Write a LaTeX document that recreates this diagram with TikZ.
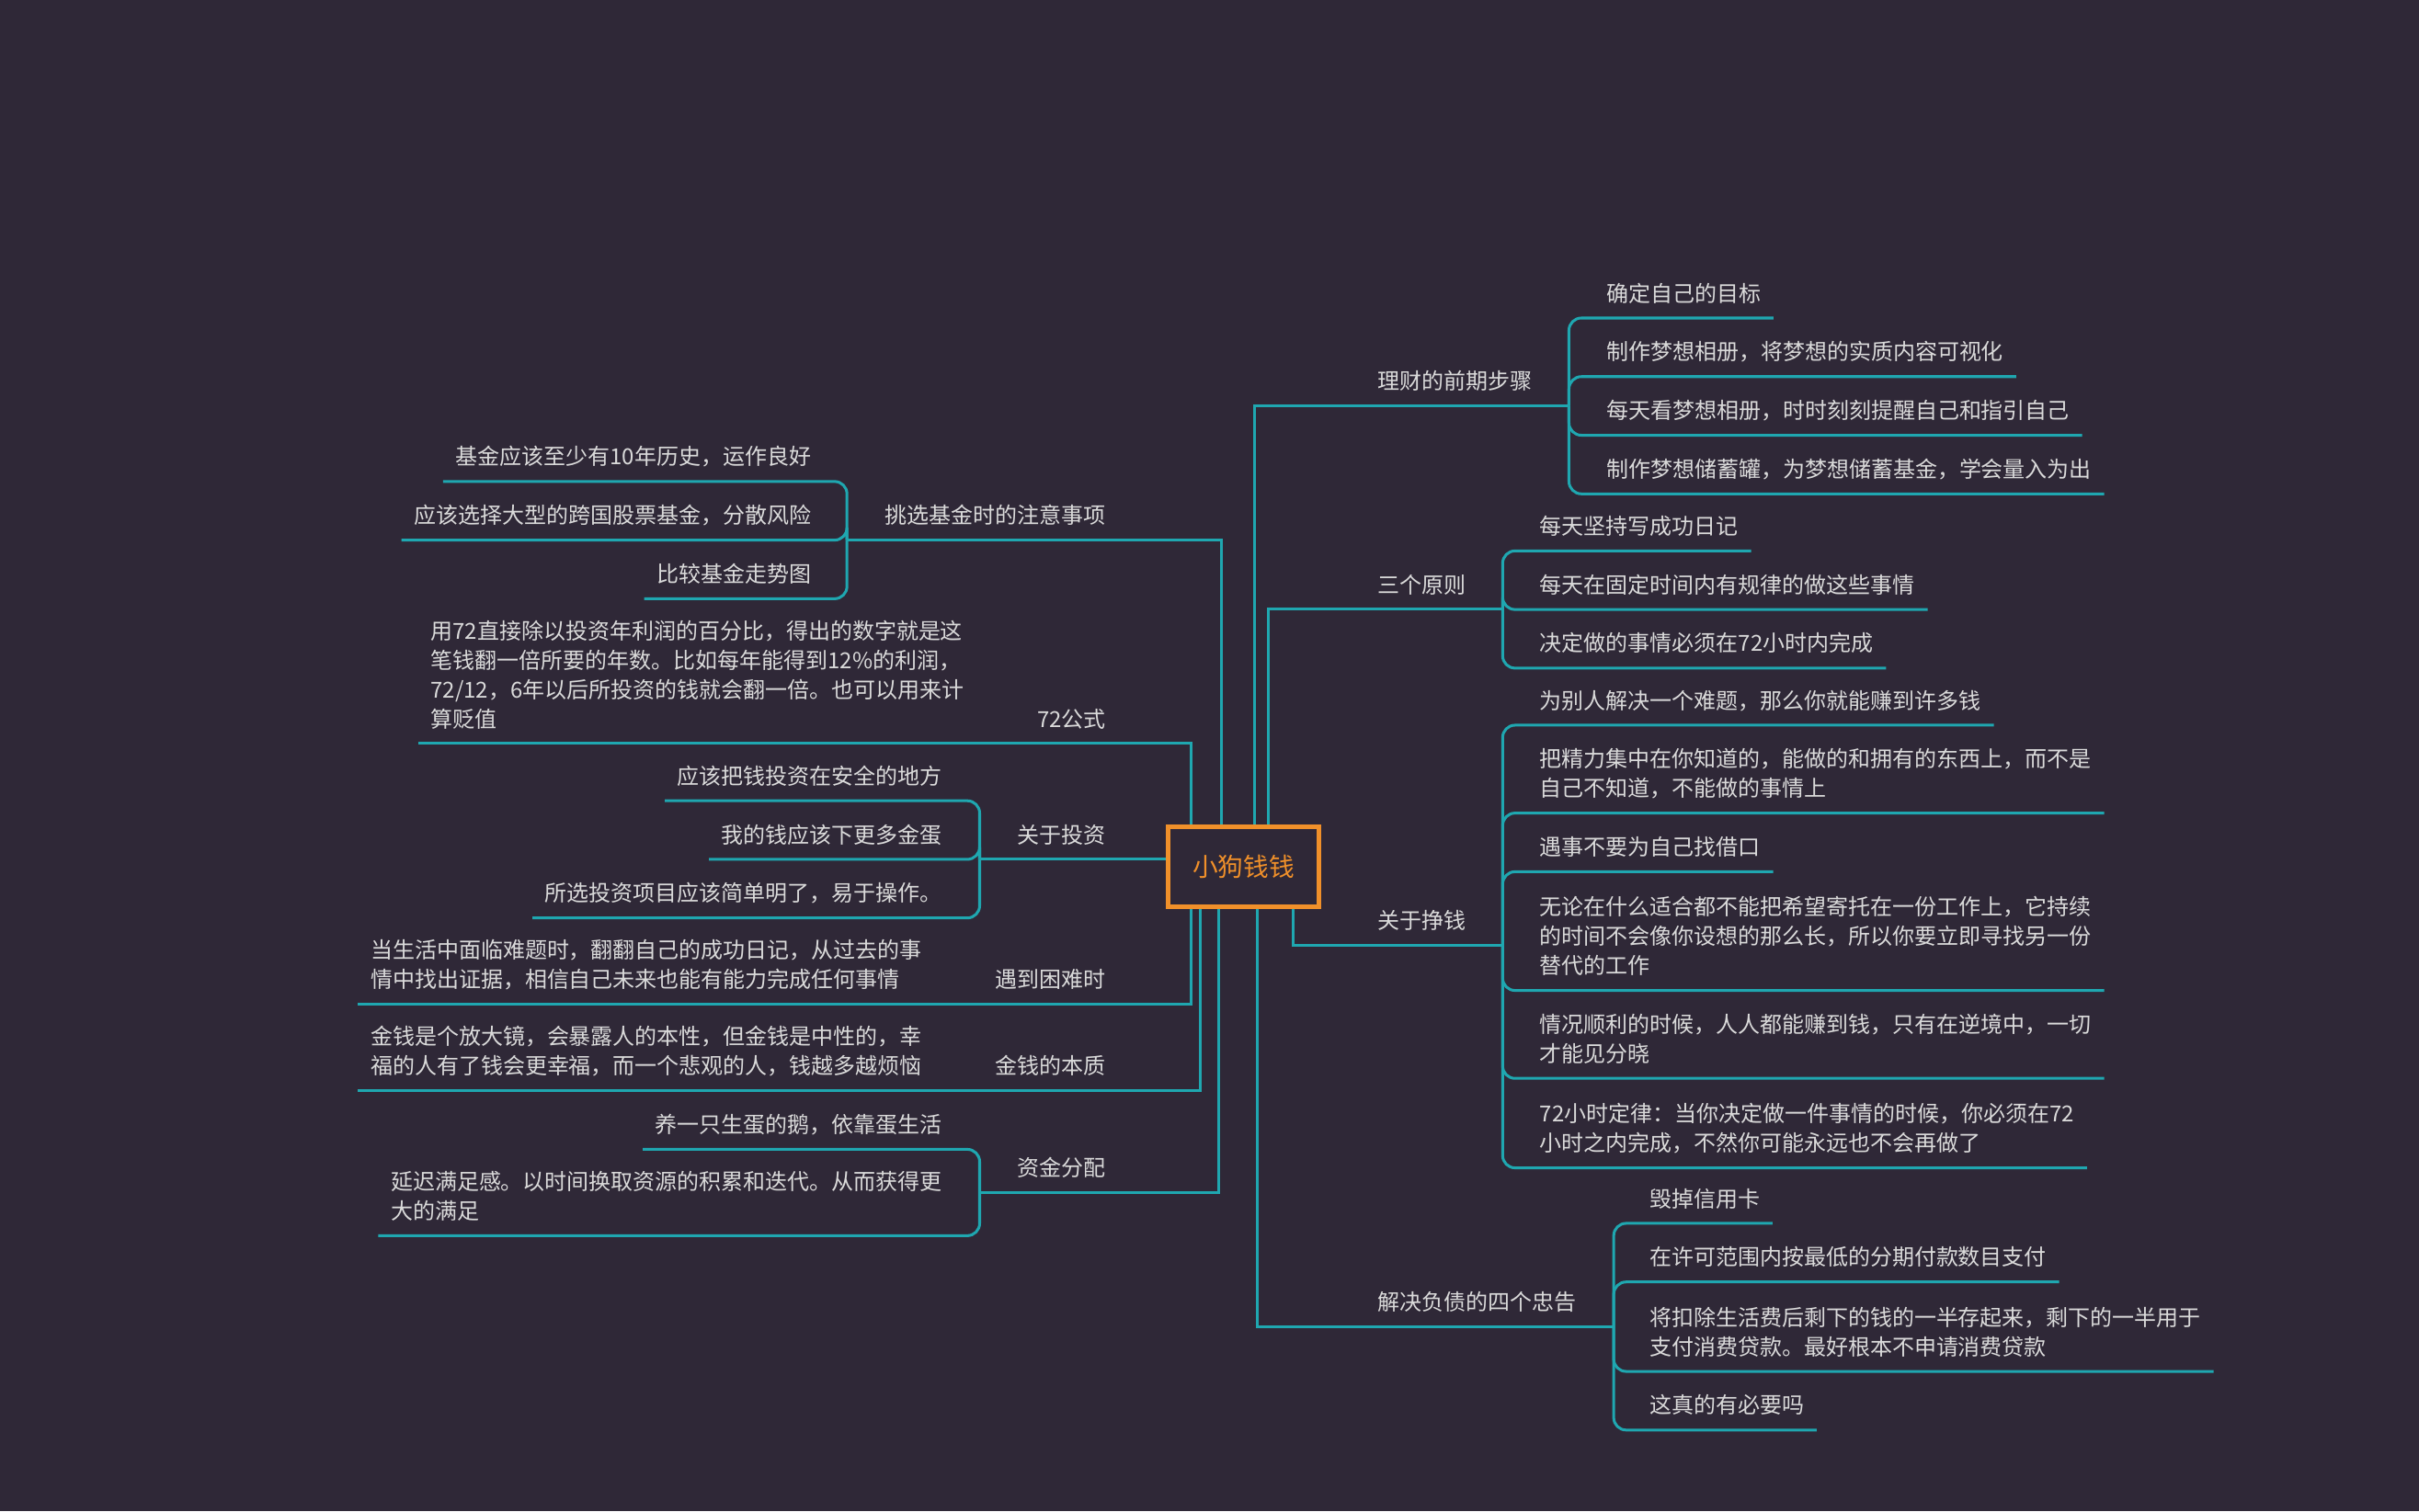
\documentclass[tikz,border=0pt]{standalone}
\usepackage{fontspec}
\setmainfont{Noto Sans CJK SC}
\usetikzlibrary{positioning}
\definecolor{mmbg}{RGB}{47,40,55}
\definecolor{mmline}{RGB}{31,167,176}
\definecolor{mmtext}{RGB}{218,218,218}
\definecolor{mmroot}{RGB}{240,144,42}
\tikzset{
  every node/.style={font=\fontsize{14.3}{19}\selectfont, text=mmtext, inner sep=0pt},
  leaf/.style={align=left, execute at end node={\rule[-2.5pt]{0pt}{2.5pt}}},
  branch/.style={draw=mmline, line width=1.8pt},
  bracket/.style={branch, rounded corners=8pt},
  rootbox/.style={draw=mmroot, line width=2.8pt, text=mmroot, minimum width=98pt, minimum height=52pt, font=\fontsize{16.5}{20}\selectfont},
}
\begin{document}
\begin{tikzpicture}[x=1pt,y=-1pt]
		\useasboundingbox (0,0) rectangle (1568,980);
		\fill[mmbg] (0,0) rectangle (1568,980);
		
		% Mitte
		\node[rootbox] (root) at (806,562) {小狗钱钱};
		
		% Knicke und Klammern
		\coordinate (tA) at (813,263);  \coordinate (bA) at (1017,263);
		\coordinate (tB) at (822,395);  \coordinate (bB) at (974,395);
		\coordinate (tC) at (838,613);  \coordinate (bC) at (974,613);
		\coordinate (tD) at (815,860);  \coordinate (bD) at (1046,860);
		\coordinate (tE) at (792,350);  \coordinate (bE) at (549,350);
		\coordinate (tF) at (772,482);
		\coordinate (bG) at (635,557);
		\coordinate (tH) at (772,651);
		\coordinate (tI) at (778,707);
		\coordinate (tJ) at (790,773);  \coordinate (bJ) at (635,773);
		
		% rechts
		\node[anchor=base west] (pA) at (893,252.5) {理财的前期步骤};
		\node[leaf,anchor=base west] (a1) at (1041,195.5) {确定自己的目标};
		\node[leaf,anchor=base west] (a2) at (1041,233.5) {制作梦想相册，将梦想的实质内容可视化};
		\node[leaf,anchor=base west] (a3) at (1041,271.5) {每天看梦想相册，时时刻刻提醒自己和指引自己};
		\node[leaf,anchor=base west] (a4) at (1041,309.5) {制作梦想储蓄罐，为梦想储蓄基金，学会量入为出};
		
		\node[anchor=base west] (pB) at (893,384.5) {三个原则};
		\node[leaf,anchor=base west] (b1) at (998,346.5) {每天坚持写成功日记};
		\node[leaf,anchor=base west] (b2) at (998,384.5) {每天在固定时间内有规律的做这些事情};
		\node[leaf,anchor=base west] (b3) at (998,422.5) {决定做的事情必须在72小时内完成};
		
		\node[anchor=base west] (pC) at (893,602.5) {关于挣钱};
		\node[leaf,anchor=base west] (c1) at (998,459.5) {为别人解决一个难题，那么你就能赚到许多钱};
		\node[leaf,anchor=base west] (c2) at (998,516.5) {把精力集中在你知道的，能做的和拥有的东西上，而不是\\自己不知道，不能做的事情上};
		\node[leaf,anchor=base west] (c3) at (998,554.5) {遇事不要为自己找借口};
		\node[leaf,anchor=base west] (c4) at (998,631.5) {无论在什么适合都不能把希望寄托在一份工作上，它持续\\的时间不会像你设想的那么长，所以你要立即寻找另一份\\替代的工作};
		\node[leaf,anchor=base west] (c5) at (998,688.5) {情况顺利的时候，人人都能赚到钱，只有在逆境中，一切\\才能见分晓};
		\node[leaf,anchor=base west] (c6) at (998,746.5) {72小时定律：当你决定做一件事情的时候，你必须在72\\小时之内完成，不然你可能永远也不会再做了};
		
		\node[anchor=base west] (pD) at (893,849.5) {解决负债的四个忠告};
		\node[leaf,anchor=base west] (d1) at (1069,782.5) {毁掉信用卡};
		\node[leaf,anchor=base west] (d2) at (1069,820.5) {在许可范围内按最低的分期付款数目支付};
		\node[leaf,anchor=base west] (d3) at (1069,878.5) {将扣除生活费后剩下的钱的一半存起来，剩下的一半用于\\支付消费贷款。最好根本不申请消费贷款};
		\node[leaf,anchor=base west] (d4) at (1069,916.5) {这真的有必要吗};
		
		% links
		\node[anchor=base east] (pE) at (717,339.5) {挑选基金时的注意事项};
		\node[leaf,anchor=base east] (e1) at (526,301.5) {基金应该至少有10年历史，运作良好};
		\node[leaf,anchor=base east] (e2) at (526,339.5) {应该选择大型的跨国股票基金，分散风险};
		\node[leaf,anchor=base east] (e3) at (526,377.5) {比较基金走势图};
		
		\node[anchor=base east] (pF) at (717,471.5) {72公式};
		\node[leaf,anchor=base west] (f1) at (279,471.5) {用72直接除以投资年利润的百分比，得出的数字就是这\\笔钱翻一倍所要的年数。比如每年能得到12\%的利润，\\72/12，6年以后所投资的钱就会翻一倍。也可以用来计\\算贬值};
		
		\node[anchor=base east] (pG) at (717,546.5) {关于投资};
		\node[leaf,anchor=base east] (g1) at (611,508.5) {应该把钱投资在安全的地方};
		\node[leaf,anchor=base east] (g2) at (611,546.5) {我的钱应该下更多金蛋};
		\node[leaf,anchor=base east] (g3) at (611,584.5) {所选投资项目应该简单明了，易于操作。};
		
		\node[anchor=base east] (pH) at (717,640.5) {遇到困难时};
		\node[leaf,anchor=base west] (h1) at (240,640.5) {当生活中面临难题时，翻翻自己的成功日记，从过去的事\\情中找出证据，相信自己未来也能有能力完成任何事情};
		
		\node[anchor=base east] (pI) at (717,696.5) {金钱的本质};
		\node[leaf,anchor=base west] (i1) at (240,696.5) {金钱是个放大镜，会暴露人的本性，但金钱是中性的，幸\\福的人有了钱会更幸福，而一个悲观的人，钱越多越烦恼};
		
		\node[anchor=base east] (pJ) at (717,762.5) {资金分配};
		\node[leaf,anchor=base east] (j1) at (611,734.5) {养一只生蛋的鹅，依靠蛋生活};
		\node[leaf,anchor=base east] (j2) at (611,790.5) {延迟满足感。以时间换取资源的积累和迭代。从而获得更\\大的满足};
		
		% Aeste rechts
		\draw[branch] (root.north -| tA) -- (tA) -- (bA);
		\draw[branch] (root.north -| tB) -- (tB) -- (bB);
		\draw[branch] (root.south -| tC) -- (tC) -- (bC);
		\draw[branch] (root.south -| tD) -- (tD) -- (bD);
		\foreach \c in {a1,a2,a3,a4}
		\draw[bracket] (bA) |- ([shift={(8pt,-8pt)}]\c.south east);
		\foreach \c in {b1,b2,b3}
		\draw[bracket] (bB) |- ([shift={(8pt,-8pt)}]\c.south east);
		\foreach \c in {c1,c2,c3,c4,c5,c6}
		\draw[bracket] (bC) |- ([shift={(8pt,-8pt)}]\c.south east);
		\foreach \c in {d1,d2,d3,d4}
		\draw[bracket] (bD) |- ([shift={(8pt,-8pt)}]\c.south east);
		
		% Aeste links
		\draw[branch] (root.north -| tE) -- (tE) -- (bE);
		\draw[branch] (root.north -| tF) -- (tF) -- ([xshift=-8pt]tF -| f1.west);
		\draw[branch] (root.west |- bG) -- (bG);
		\draw[branch] (root.south -| tH) -- (tH) -- ([xshift=-8pt]tH -| h1.west);
		\draw[branch] (root.south -| tI) -- (tI) -- ([xshift=-8pt]tI -| i1.west);
		\draw[branch] (root.south -| tJ) -- (tJ) -- (bJ);
		\foreach \c in {e1,e2,e3}
		\draw[bracket] (bE) |- ([shift={(-8pt,-8pt)}]\c.south west);
		\foreach \c in {g1,g2,g3}
		\draw[bracket] (bG) |- ([shift={(-8pt,-8pt)}]\c.south west);
		\foreach \c in {j1,j2}
		\draw[bracket] (bJ) |- ([shift={(-8pt,-8pt)}]\c.south west);
\end{tikzpicture}
\end{document}
